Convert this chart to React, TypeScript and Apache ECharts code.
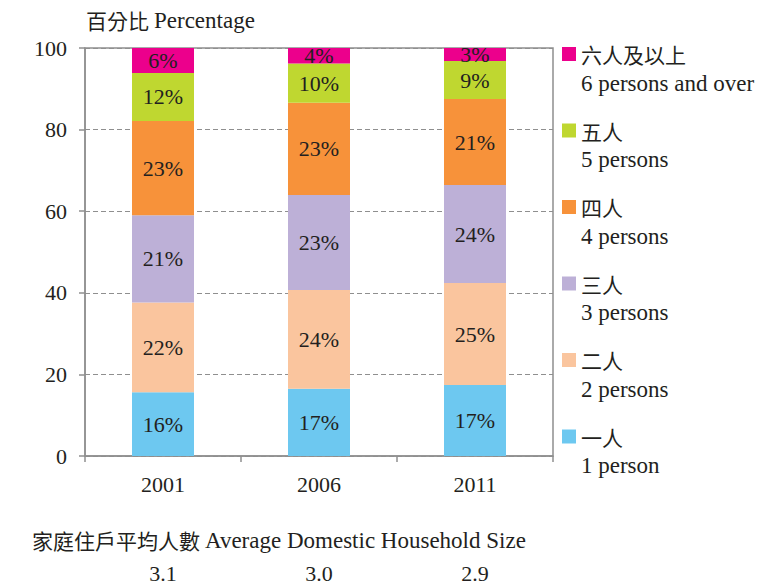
import React, { useEffect, useRef } from "react";
import * as echarts from "echarts";

const years = ["2001", "2006", "2011"];
const avgSize = ["3.1", "3.0", "2.9"];
const namesZh = ["一人", "二人", "三人", "四人", "五人", "六人及以上"];
const namesEn = ["1 person", "2 persons", "3 persons", "4 persons", "5 persons", "6 persons and over"];
const colors = ["#6DC8F0", "#FAC59E", "#BDB0D7", "#F7923A", "#BFD730", "#EC008C"];
const onePerson = [15.6, 16.5, 17.4];
const twoPersons = [22.0, 24.2, 25.0];
const threePersons = [21.4, 23.3, 24.0];
const fourPersons = [23.1, 22.6, 21.1];
const fivePersons = [11.8, 9.6, 9.3];
const sixPlus = [6.1, 3.8, 3.2];
const yTicks = { min: 0, max: 100, interval: 20 };

const SERIF = "'Liberation Serif', 'DejaVu Serif', serif";
const CJK = "'Noto Sans CJK TC', 'Noto Sans CJK SC', sans-serif";
const TXT = "#231F20";

export default function App() {
  const ref = useRef<HTMLDivElement>(null);
  useEffect(() => {
    if (!ref.current) return;
    const chart = echarts.init(ref.current, null, { renderer: "svg" });
    const values = [onePerson, twoPersons, threePersons, fourPersons, fivePersons, sixPlus];
    const series = values.map((v, i) => ({
      name: namesZh[i],
      type: "bar",
      stack: "total",
      xAxisIndex: 0,
      barWidth: 62,
      data: v,
      itemStyle: { color: colors[i] },
      label: {
        show: true,
        position: "inside",
        formatter: (p: any) => Math.round(p.value) + "%",
        fontFamily: SERIF,
        fontSize: 22,
        color: TXT,
      },
    }));
    const titleRich = {
      z: { fontFamily: CJK, fontSize: 21, color: TXT, fontWeight: "normal", lineHeight: 24 },
      e: { fontFamily: SERIF, fontSize: 23, color: TXT, fontWeight: "normal", lineHeight: 24 },
    };
    chart.setOption({
      animation: false,
      title: [
        {
          text: "{z|百分比} {e|Percentage}",
          left: 86,
          top: 8,
          padding: 0,
          textStyle: { fontWeight: "normal", rich: titleRich },
        },
        {
          text: "{z|家庭住戶平均人數} {e|Average Domestic Household Size}",
          left: 32,
          top: 528,
          padding: 0,
          textStyle: { fontWeight: "normal", rich: titleRich },
        },
      ],
      grid: {
        left: 85,
        right: 211,
        top: 48,
        bottom: 129,
        show: true,
        borderColor: "#8f8f8f",
        borderWidth: 1.5,
        backgroundColor: "transparent",
      },
      legend: {
        orient: "vertical",
        left: 562,
        top: 20,
        padding: 0,
        itemWidth: 14,
        itemHeight: 14,
        itemGap: 2,
        icon: "rect",
        data: [...namesZh].reverse(),
        formatter: (name: string) => {
          const i = namesZh.indexOf(name);
          return "{s| }\n{a|" + name + "}\n{b|" + namesEn[i] + "}";
        },
        textStyle: {
          color: TXT,
          rich: {
            s: { fontSize: 10, lineHeight: 29 },
            a: { fontFamily: CJK, fontSize: 21, lineHeight: 29, color: TXT },
            b: { fontFamily: SERIF, fontSize: 23, lineHeight: 29, color: TXT },
          },
        },
      },
      xAxis: [
        {
          type: "category",
          data: years,
          axisLine: { show: true, lineStyle: { color: "#8f8f8f", width: 1.5 } },
          axisTick: { show: true, length: 6, lineStyle: { color: "#8f8f8f", width: 1.5 } },
          axisLabel: { fontFamily: SERIF, fontSize: 22, color: TXT, margin: 17 },
        },
        {
          type: "category",
          data: years,
          position: "bottom",
          offset: 90,
          axisLine: { show: false },
          axisTick: { show: false },
          axisLabel: {
            fontFamily: SERIF,
            fontSize: 22,
            color: TXT,
            margin: 16,
            formatter: (_v: string, idx: number) => avgSize[idx],
          },
        },
      ],
      yAxis: {
        type: "value",
        min: yTicks.min,
        max: yTicks.max,
        interval: yTicks.interval,
        axisLine: { show: true, lineStyle: { color: "#8f8f8f", width: 1.5 } },
        axisTick: { show: true, length: 6, lineStyle: { color: "#8f8f8f", width: 1.5 } },
        axisLabel: { fontFamily: SERIF, fontSize: 22, color: TXT, margin: 18 },
        splitLine: { show: true, lineStyle: { color: "#8f8f8f", type: [5, 3], width: 1.2 } },
      },
      series,
    });
    return () => chart.dispose();
  }, []);
  return (
    <div
      ref={ref}
      style={{ position: "fixed", left: 0, top: 0, width: 764, height: 585, background: "#fff" }}
    />
  );
}
